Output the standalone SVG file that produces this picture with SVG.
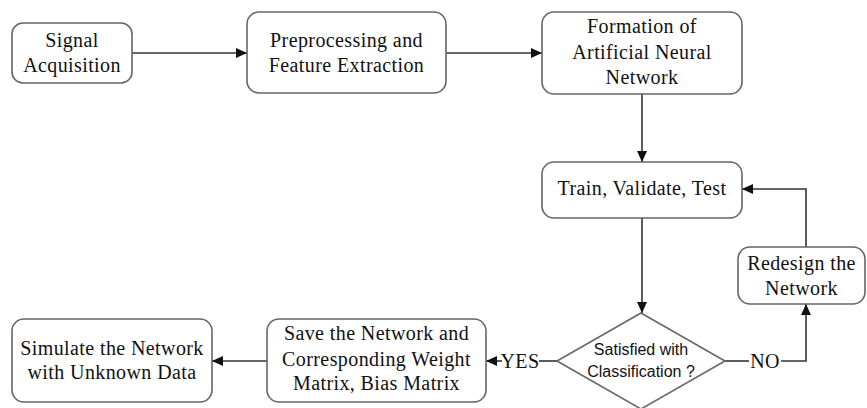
<svg xmlns="http://www.w3.org/2000/svg" width="867" height="408" viewBox="0 0 867 408">
<defs>
<marker id="ah" markerUnits="userSpaceOnUse" markerWidth="12" markerHeight="10" refX="11" refY="5" orient="auto">
<path d="M0,0 L11,5 L0,10 Z" fill="#111"/>
</marker>
<style>
.box{fill:#fff;stroke:#666;stroke-width:1.6}
.t{font-family:"Liberation Serif","Times New Roman",serif;font-size:20px;letter-spacing:0.4px;fill:#111;text-anchor:middle}
.s{font-family:"Liberation Sans",Arial,sans-serif;font-size:16px;fill:#111;text-anchor:middle}
.c{fill:none;stroke:#333;stroke-width:1.6}
</style>
</defs>
<rect width="867" height="408" fill="#fff"/>
<g id="connectors">
<line class="c" x1="132" y1="53" x2="247" y2="53" marker-end="url(#ah)"/>
<line class="c" x1="446" y1="53" x2="542" y2="53" marker-end="url(#ah)"/>
<line class="c" x1="642" y1="94" x2="642" y2="162" marker-end="url(#ah)"/>
<line class="c" x1="642" y1="218" x2="642" y2="313" marker-end="url(#ah)"/>
<line class="c" x1="725" y1="361" x2="749" y2="361"/>
<polyline class="c" points="781,361 806,361 806,304" marker-end="url(#ah)"/>
<polyline class="c" points="806,247 806,189 742,189" marker-end="url(#ah)"/>
<line class="c" x1="557" y1="361" x2="539" y2="361"/>
<line class="c" x1="502" y1="361" x2="486" y2="361" marker-end="url(#ah)"/>
<line class="c" x1="267" y1="361" x2="212" y2="361" marker-end="url(#ah)"/>
<text class="t" x="520" y="368">YES</text>
<text class="t" x="765" y="368">NO</text>
</g>
<g id="signal">
<rect class="box" x="12" y="23" width="120" height="60" rx="11"/>
<text class="t" x="72" y="47">Signal</text>
<text class="t" x="72" y="72">Acquisition</text>
</g>
<g id="preprocessing">
<rect class="box" x="247" y="12" width="199" height="81" rx="12"/>
<text class="t" x="346.5" y="47">Preprocessing and</text>
<text class="t" x="346.5" y="72">Feature Extraction</text>
</g>
<g id="formation">
<rect class="box" x="542" y="12" width="200" height="82" rx="12"/>
<text class="t" x="642" y="33">Formation of</text>
<text class="t" x="642" y="59">Artificial Neural</text>
<text class="t" x="642" y="84">Network</text>
</g>
<g id="train">
<rect class="box" x="542" y="162" width="200" height="56" rx="12"/>
<text class="t" x="642" y="195">Train, Validate, Test</text>
</g>
<g id="decision">
<polygon class="box" points="641,313 725,361 641,409 557,361"/>
<text class="s" x="641" y="355">Satisfied with</text>
<text class="s" x="641" y="377">Classification ?</text>
</g>
<g id="redesign">
<rect class="box" x="738" y="247" width="127" height="57" rx="12"/>
<text class="t" x="801.5" y="270">Redesign the</text>
<text class="t" x="801.5" y="295">Network</text>
</g>
<g id="save">
<rect class="box" x="267" y="319" width="219" height="83" rx="12"/>
<text class="t" x="376.5" y="340">Save the Network and</text>
<text class="t" x="376.5" y="366">Corresponding Weight</text>
<text class="t" x="376.5" y="390">Matrix, Bias Matrix</text>
</g>
<g id="simulate">
<rect class="box" x="12" y="319" width="200" height="83" rx="12"/>
<text class="t" x="112" y="355">Simulate the Network</text>
<text class="t" x="112" y="379">with Unknown Data</text>
</g>
</svg>
